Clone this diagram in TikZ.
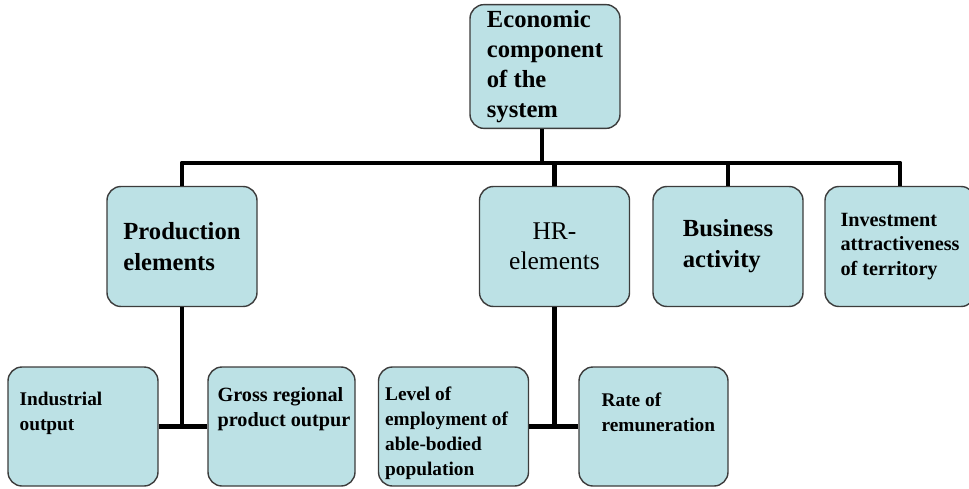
\documentclass[tikz,border=0pt]{standalone}
\usepackage{fontspec}
\setmainfont{Liberation Serif}
\usetikzlibrary{positioning}
\definecolor{boxfill}{RGB}{188,225,229}
\definecolor{boxline}{RGB}{60,60,60}

\begin{document}
\begin{tikzpicture}[box/.style={shape=rectangle,rounded corners=0.28cm,draw=boxline,fill=boxfill,line width=0.8pt,minimum width=3cm,minimum height=2.4cm,align=left},
txt/.style={inner sep=0pt,align=left,font=\bfseries\fontsize{11}{14.2}\selectfont},
conn/.style={draw=black,line width=2.8pt,line join=round}]
\useasboundingbox (0,0) rectangle (19.38,-9.76);
\node[box,minimum height=2.46cm,font=\bfseries\fontsize{14}{17}\selectfont] (0) at (10.9,-1.33) {Economic\\component\\of the\\system};
\node[box,font=\bfseries\fontsize{14}{18}\selectfont] (1) at (3.64,-4.93) {Production\\elements};
\node[box,align=center,font=\fontsize{14.5}{17}\selectfont] (2) at (11.09,-4.93) {HR-\\elements};
\node[box,font=\bfseries\fontsize{14}{17.6}\selectfont] (3) at (14.56,-4.93) {Business\\activity};
\node[box,font=\bfseries\fontsize{11.5}{13.9}\selectfont] (4) at (18.0,-4.93) {Investment\\attractiveness\\of territory};
\node[box,minimum height=2.38cm] (5) at (1.66,-8.53) {};
\node[box,minimum height=2.38cm,minimum width=2.94cm] (6) at (5.63,-8.53) {};
\node[box,minimum height=2.38cm] (7) at (9.07,-8.53) {};
\node[box,minimum height=2.38cm,minimum width=2.98cm] (8) at (13.07,-8.53) {};

\node[txt,below right=0.5cm and 0.24cm of 5.north west] (5t) {Industrial\\output};
\node[txt,font=\bfseries\fontsize{11.5}{14.2}\selectfont,below right=0.42cm and 0.2cm of 6.north west] (6t) {Gross regional\\product outpur};
\node[txt,below right=0.4cm and 0.14cm of 7.north west] (7t) {Level of\\employment of\\able-bodied\\population};
\node[txt,below right=0.52cm and 0.46cm of 8.north west] (8t) {Rate of\\remuneration};

\coordinate (j) at (10.84,-3.26);
\path[conn] (0.south -| j) -- (j);
\path[conn] (1.north) |- (j) -| (4.north);
\path[conn] (2.north) -- (2.north |- j);
\path[conn] (3.north) -- (3.north |- j);
\path[conn] (1.south) -- (1.south |- 5.east);
\path[conn] (5.east) -- (6.west);
\path[conn] (2.south) -- (2.south |- 7.east);
\path[conn] (7.east) -- (8.west);
\end{tikzpicture}
\end{document}
